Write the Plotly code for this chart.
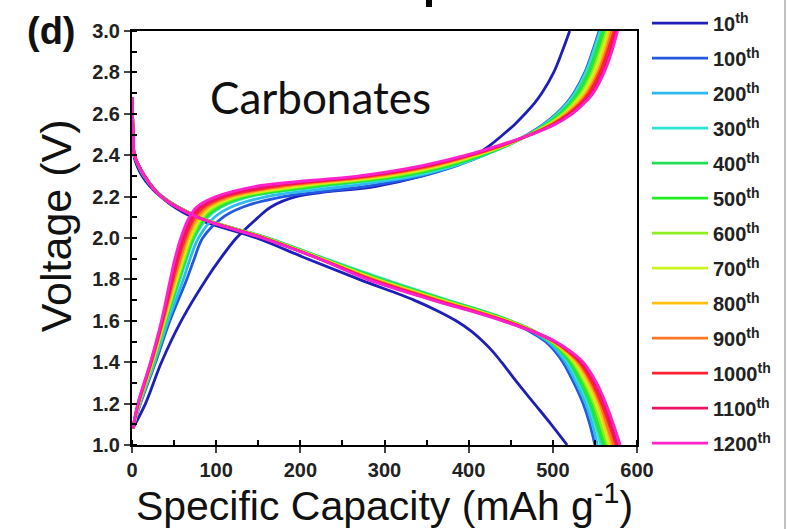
import plotly.graph_objects as go

cycles = ["10", "100", "200", "300", "400", "500", "600", "700", "800", "900", "1000", "1100", "1200"]
colors = ["#1e1eb8", "#2458e0", "#30b8f0", "#30e4d4", "#22dd55", "#22ee22", "#8cee22",
          "#ccf422", "#ffc012", "#ff7722", "#ff2233", "#ee1166", "#ff22cc"]

# charge curves: capacity (mAh/g) at shared voltage levels
charge_v = [1.08, 1.2, 1.4, 1.6, 1.8, 1.9, 2.0, 2.1, 2.15, 2.2, 2.25, 2.3, 2.35,
            2.4, 2.45, 2.5, 2.55, 2.6, 2.65, 2.7, 2.8, 2.9, 3.0]
chg_10 = [1, 16, 35, 58.5, 88, 105, 124, 150, 165, 195, 290, 345, 382,
          408, 426, 441, 455, 467, 478, 487, 501, 511, 520]
chg_100 = [1, 10, 28, 45, 65, 74, 84, 108, 132, 180, 280, 345, 386,
           418, 446, 470, 489, 504, 516, 525, 538, 547, 555]
chg_200 = [1, 9.5, 27, 43, 61, 69, 79, 98, 118, 160, 255, 338, 384,
           418, 447, 471, 490, 505, 517, 526, 539, 548, 556]
chg_300 = [1, 9, 26, 41, 57, 65, 74, 90, 106, 140, 228, 330, 382,
           418, 448, 472, 491, 506, 518, 527, 540, 549, 557]
chg_400 = [1, 8.8, 25.5, 40.3, 56, 64, 73, 88, 104, 136, 220, 323, 378,
           416, 447, 472, 492, 508, 520, 529, 542, 551, 559]
chg_500 = [1, 8.6, 25, 39.6, 55, 63, 72, 86, 101, 132, 212, 317, 374,
           413, 446, 472, 494, 510, 522, 532, 545, 554, 561]
chg_600 = [1, 8.3, 24.6, 39, 54, 62, 70.5, 84, 98, 128, 204, 310, 370,
           411, 445, 473, 495, 512, 524, 534, 547, 556, 564]
chg_700 = [1, 8.1, 24.1, 38.3, 53, 60.5, 69, 82, 95, 124, 196, 303, 366,
           409, 444, 473, 496, 514, 526, 536, 549, 558, 566]
chg_800 = [1, 7.9, 23.7, 37.7, 51.5, 59, 67, 80, 92, 120, 188, 297, 362,
           406, 443, 473, 497, 515, 528, 539, 552, 561, 568]
chg_900 = [1, 7.7, 23.2, 37, 50, 57.5, 65, 77, 89, 115, 179, 290, 358,
           404, 442, 473, 499, 517, 531, 541, 554, 563, 570]
chg_1000 = [1, 7.5, 22.8, 36.3, 48.5, 55, 63, 74, 85, 110, 170, 283, 354,
            402, 441, 474, 500, 519, 533, 543, 556, 565, 573]
chg_1100 = [1, 7.2, 22.4, 35.7, 47, 53, 60.5, 71, 81, 105, 159, 277, 350,
            400, 440, 474, 502, 521, 535, 546, 559, 568, 575]
chg_1200 = [1, 7, 22, 35, 45.5, 51, 58, 68, 77, 100, 148, 270, 345,
            397, 438, 474, 503, 523, 537, 548, 561, 570, 577]

# discharge curves: capacity (mAh/g) at shared voltage levels
discharge_v = [2.68, 2.5, 2.4, 2.3, 2.2, 2.1, 2.0, 1.9, 1.8, 1.7, 1.65, 1.6, 1.55,
               1.5, 1.45, 1.4, 1.3, 1.2, 1.1, 1.0]
dis_10 = [0, 1, 2, 12, 34, 72, 148, 208, 270, 335, 362, 385, 403, 417, 429, 439, 458, 478, 498, 517]
dis_100 = [0, 1.5, 3, 14, 36, 80, 158, 225, 292, 368, 408, 443, 472, 491, 503, 512, 525, 536, 544, 550]
dis_200 = [0, 1.5, 3, 14, 36, 80, 160, 228, 296, 372, 412, 447, 475, 494, 506, 515, 528, 539, 547, 553]
dis_300 = [0, 1.5, 3, 15, 36, 80, 162, 230, 300, 375, 415, 450, 478, 497, 509, 518, 531, 542, 550, 557]
dis_400 = [0, 1.5, 3, 15, 36, 80, 161, 228, 297, 373, 413, 449, 478, 498, 510, 520, 533, 544, 552, 560]
dis_500 = [0, 1.5, 3, 15, 36, 80, 160, 227, 294, 371, 412, 448, 477, 498, 512, 522, 536, 547, 555, 562]
dis_600 = [0, 1.5, 3, 15, 35, 80, 159, 226, 292, 369, 410, 447, 477, 499, 513, 524, 538, 549, 557, 565]
dis_700 = [0, 1.5, 3, 15, 35, 79, 158, 225, 290, 367, 408, 446, 477, 500, 515, 526, 540, 551, 560, 567]
dis_800 = [0, 1.5, 3, 15, 35, 79, 158, 224, 288, 365, 407, 445, 476, 500, 516, 528, 543, 554, 562, 570]
dis_900 = [0, 1.5, 3, 15, 35, 79, 157, 223, 286, 363, 405, 444, 476, 501, 518, 530, 545, 556, 564, 572]
dis_1000 = [0, 1.5, 3, 15, 35, 78, 156, 223, 284, 361, 403, 443, 476, 502, 519, 532, 547, 558, 567, 575]
dis_1100 = [0, 1.5, 3, 15, 35, 78, 156, 222, 282, 359, 402, 442, 475, 502, 521, 534, 550, 561, 569, 577]
dis_1200 = [0, 1.5, 3, 15, 35, 78, 155, 222, 280, 357, 400, 440, 475, 503, 522, 536, 552, 563, 572, 580]

charge_caps = [chg_10, chg_100, chg_200, chg_300, chg_400, chg_500, chg_600,
               chg_700, chg_800, chg_900, chg_1000, chg_1100, chg_1200]
discharge_caps = [dis_10, dis_100, dis_200, dis_300, dis_400, dis_500, dis_600,
                  dis_700, dis_800, dis_900, dis_1000, dis_1100, dis_1200]

x_ticks = [0, 100, 200, 300, 400, 500, 600]
y_ticks = [1.0, 1.2, 1.4, 1.6, 1.8, 2.0, 2.2, 2.4, 2.6, 2.8, 3.0]

fig = go.Figure()
for name, col, cc, dc in zip(cycles, colors, charge_caps, discharge_caps):
    grp = "c" + name
    fig.add_trace(go.Scatter(
        x=dc, y=discharge_v, mode="lines", line=dict(color=col, width=2.8, shape="spline", smoothing=1.0),
        legendgroup=grp, showlegend=False, hoverinfo="skip"))
    fig.add_trace(go.Scatter(
        x=cc, y=charge_v, mode="lines", line=dict(color=col, width=2.8, shape="spline", smoothing=1.0),
        name=name + "<sup>th</sup>", legendgroup=grp, showlegend=True))

ARIAL = "Liberation Sans, Arial, sans-serif"
tick_font = dict(family=ARIAL, size=20, color="#222222", weight="bold")
fig.update_layout(
    width=793, height=529,
    margin=dict(l=132, r=156, t=31, b=84, autoexpand=False),
    paper_bgcolor="white", plot_bgcolor="white",
    font=dict(family=ARIAL, color="#111111"),
    legend=dict(x=1.0198, y=1.066, xanchor="left", yanchor="top", maxheight=529,
                font=dict(family=ARIAL, size=20, color="#222222", weight="bold"),
                tracegroupgap=6, itemwidth=56, bgcolor="rgba(0,0,0,0)"),
    xaxis=dict(range=[0, 600], tickvals=x_ticks, ticks="outside", ticklen=6, tickwidth=2,
               showline=True, linewidth=2, linecolor="black", mirror=True, showgrid=False, zeroline=False,
               tickfont=tick_font,
               minor=dict(dtick=50, ticks="inside", ticklen=5, tickwidth=2, tickcolor="black"),
               title=dict(text="Specific Capacity (mAh g<sup>-1</sup>)", standoff=0,
                          font=dict(family=ARIAL, size=41, color="#111111"))),
    yaxis=dict(range=[1.0, 3.0], tickvals=y_ticks, tickformat=".1f", ticks="outside", ticklen=6, tickwidth=2,
               showline=True, linewidth=2, linecolor="black", mirror=True, showgrid=False, zeroline=False,
               tickfont=tick_font,
               minor=dict(dtick=0.1, ticks="inside", ticklen=5, tickwidth=2, tickcolor="black")),
    annotations=[
        dict(text="Voltage (V)", x=-0.150, y=0.529, xref="paper", yref="paper", showarrow=False,
             textangle=-90, xanchor="center", yanchor="middle",
             font=dict(family=ARIAL, size=43, color="#111111")),
        dict(text="Carbonates", x=0.150, y=0.841, xref="paper", yref="paper", showarrow=False,
             xanchor="left", yanchor="middle", font=dict(family="Lato, sans-serif", size=44, color="#111111")),
        dict(text="(d)", x=-0.212, y=1.0, xref="paper", yref="paper", showarrow=False,
             xanchor="left", yanchor="middle",
             font=dict(family=ARIAL, size=38, color="#111111", weight="bold")),
    ],
    shapes=[
        dict(type="rect", xref="paper", yref="paper", x0=(426 - 132) / 505, x1=(432 - 132) / 505,
             y0=(445 - 7) / 414, y1=(445 + 2) / 414, fillcolor="black", line=dict(width=0)),
        dict(type="line", xref="paper", yref="paper", x0=(785 - 132) / 505, x1=(785 - 132) / 505,
             y0=-0.25, y1=1.1, line=dict(color="#c0c0c0", width=2)),
    ],
)

fig.write_html("out.html")
